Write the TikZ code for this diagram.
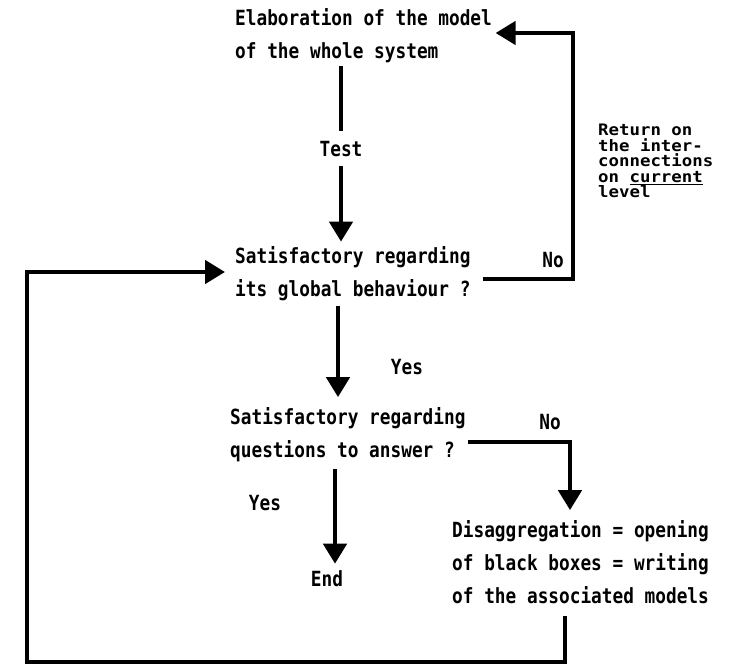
\documentclass[tikz,border=0pt]{standalone}
\usepackage{fontspec}
\newfontfamily\tw[FakeStretch=0.85]{DejaVu Sans Mono}
\newfontfamily\twr[FakeStretch=1.1]{DejaVu Sans Mono}
\usetikzlibrary{arrows.meta,calc}
\begin{document}
\begin{tikzpicture}[x=1pt,y=-1pt,
  txt/.style={inner sep=0pt, font=\tw\bfseries\fontsize{20.9}{33}\selectfont, align=left, anchor=west},
  note/.style={inner sep=0pt, font=\twr\bfseries\fontsize{15.8}{15.5}\selectfont, align=left, anchor=west},
  ln/.style={line width=4.5pt, line cap=butt, line join=miter},
  arr/.style={ln, -{Triangle[length=20pt,width=23pt]}}]
\fill[white] (0,0) rectangle (733,670);
\useasboundingbox (0,0) rectangle (733,670);
% text blocks
\node[txt] (elab) at (235,35.5) {Elaboration of the model\\of the whole system};
\node[txt, anchor=center] (test) at (341,149) {Test};
\node[txt] (glob) at (235,273.5) {Satisfactory regarding\\its global behaviour ?};
\node[txt, anchor=center] (yes1) at (407,367) {Yes};
\node[txt, anchor=center] (no1) at (553,260) {No};
\node[note] (ret) at (598,161) {Return on\\the inter-\\connections\\on \underline{current}\\level};
\node[txt] (quest) at (230,434.5) {Satisfactory regarding\\questions to answer ?};
\node[txt, anchor=center] (no2) at (550,422) {No};
\node[txt, anchor=center] (yes2) at (265,503) {Yes};
\node[txt, anchor=center] (end) at (327,579) {End};
\node[txt] (dis) at (452,562.5) {Disaggregation = opening\\of black boxes = writing\\of the associated models};
% corner points of the loops
\coordinate (topright) at (573,33);
\coordinate (lowleft) at (27,662);
% connectors
\draw[ln] (test.north |- elab.south) ++(0,3.5) -- ($(test.north)+(0,-10)$);
\draw[arr] ($(test.south)+(0,9)$) -- ($(test.south |- glob.north)+(0,-4.5)$);
\draw[arr] ($(glob.south west)+(103,5)$) -- ($(quest.north west)+(108,-10)$);
\draw[arr] ($(quest.south west)+(105,7)$) -- ($(end.north)+(8,-7)$);
\draw[arr] ($(quest.east)+(2,7.5)$) -| ($(dis.north west)+(118,-10.5)$);
\draw[arr] ($(glob.east)+(12,5.5)$) -| (topright) -- ($(elab.east |- topright)+(3.5,0)$);
\draw[arr] ($(dis.south west)+(113,12)$) |- (lowleft) |- ($(glob.west)+(-10,-1.5)$);
\end{tikzpicture}
\end{document}
